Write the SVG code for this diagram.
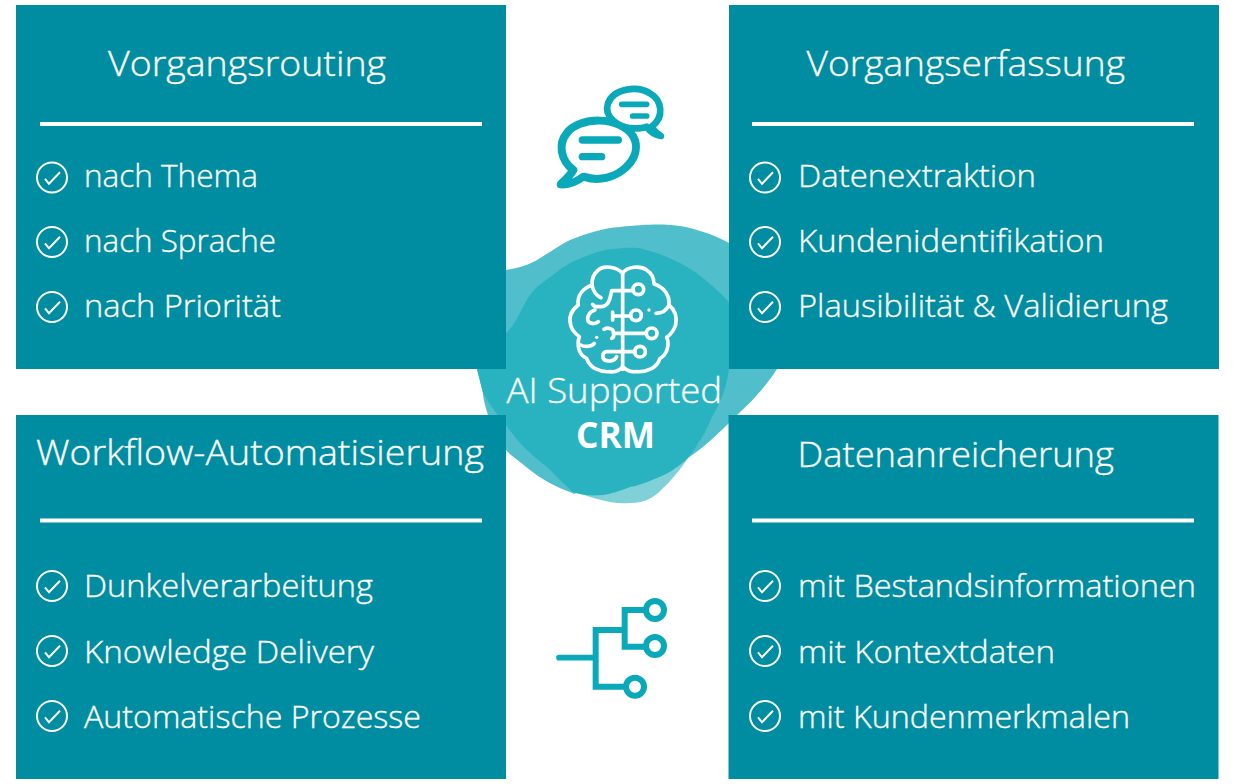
<svg xmlns="http://www.w3.org/2000/svg" xmlns:xlink="http://www.w3.org/1999/xlink" width="1246" height="784" viewBox="0 0 1246 784">
<style>
.panel{fill:#018DA1}
.rule{stroke:#fff;stroke-width:4;fill:none}
.t{font-family:"Open Sans","Liberation Sans",sans-serif;font-weight:300;fill:#fff;stroke:#fff;stroke-width:.35}
.h{font-size:35px}
.i{font-size:31px}
.cb{font-size:36px;font-weight:700}
.ic{stroke:#0AA9B9;fill:none;stroke-linecap:round;stroke-linejoin:round}
.br{stroke:#fff;fill:none;stroke-width:11;stroke-linecap:round;stroke-linejoin:round}
</style>
<defs>
<g id="check"><circle r="15" fill="none" stroke="#fff" stroke-width="2"/><path d="M-7,1.3 L-3,6.3 L8,-5.3" fill="none" stroke="#fff" stroke-width="2"/></g>
</defs>
<rect width="1246" height="784" fill="#fff"/>
<g id="blob">
<path fill="#80D0D8" d="M565,488 C590,497 610,505 630,503 C645,503 655,497 663,488 C670,482 680,470 688,458 L600,440Z"/>
<path fill="#50BFCB" d="M477,369 C479,377 481,385 483,393 C483,398 485,405 488,415 C492,425 498,438 506,450 C510,455 518,460 530,470 C540,478 555,487 575,494 L600,440 L688,458 C705,447 722,430 737,415 C750,403 765,388 777,369 L729,369 L729,243 C715,235 690,226 670,225 C655,224 640,225 620,227 C605,228 590,232 570,240 C560,245 550,252 537,260 C530,264 520,268 506,270 L506,369Z"/>
<path fill="#29B3C1" d="M477,369 L506,333 C512,328 516,320 520,313 C526,300 530,294 537,287 C548,279 558,270 570,263 C585,256 600,250 613,249 C625,248 635,247 643,249 C660,253 675,260 687,267 C702,276 718,290 729,302 L729,369 C727,385 722,400 712,417 C706,432 697,446 688,458 C675,470 665,475 657,478 C645,483 637,486 630,487 C620,491 610,494 603,495 C590,496 580,495 573,492 C565,485 555,475 547,467 C540,462 535,457 527,450 C518,442 512,433 506,425 C497,415 490,405 483,393 C481,385 479,377 477,369Z"/>
</g>
<g id="node-vorgangsrouting">
<rect class="panel" x="16" y="5" width="490" height="364"/>
<text class="t h" x="108" y="76" textLength="278" lengthAdjust="spacingAndGlyphs">Vorgangsrouting</text>
<line class="rule" x1="40" y1="124" x2="482" y2="124"/>
<use xlink:href="#check" href="#check" x="52" y="177.500"/>
<text class="t i" x="84" y="187" textLength="174" lengthAdjust="spacingAndGlyphs">nach Thema</text>
<use xlink:href="#check" href="#check" x="52" y="242"/>
<text class="t i" x="84" y="252" textLength="192" lengthAdjust="spacingAndGlyphs">nach Sprache</text>
<use xlink:href="#check" href="#check" x="52" y="307"/>
<text class="t i" x="84" y="317" textLength="197" lengthAdjust="spacingAndGlyphs">nach Priorität</text>
</g>
<g id="node-vorgangserfassung">
<rect class="panel" x="729" y="5" width="490" height="364"/>
<text class="t h" x="806.500" y="76" textLength="318.500" lengthAdjust="spacingAndGlyphs">Vorgangserfassung</text>
<line class="rule" x1="752" y1="124" x2="1194" y2="124"/>
<use xlink:href="#check" href="#check" x="765" y="177.500"/>
<text class="t i" x="798" y="187" textLength="238" lengthAdjust="spacingAndGlyphs">Datenextraktion</text>
<use xlink:href="#check" href="#check" x="765" y="242"/>
<text class="t i" x="798" y="252" textLength="306" lengthAdjust="spacingAndGlyphs">Kundenidentifikation</text>
<use xlink:href="#check" href="#check" x="765" y="307"/>
<text class="t i" x="798" y="317" textLength="370" lengthAdjust="spacingAndGlyphs">Plausibilität &amp; Validierung</text>
</g>
<g id="node-workflow">
<rect class="panel" x="16" y="415" width="490" height="364"/>
<text class="t h" x="36" y="465" textLength="448" lengthAdjust="spacingAndGlyphs">Workflow-Automatisierung</text>
<line class="rule" x1="40" y1="520.500" x2="482" y2="520.500"/>
<use xlink:href="#check" href="#check" x="52" y="586"/>
<text class="t i" x="84" y="597" textLength="289" lengthAdjust="spacingAndGlyphs">Dunkelverarbeitung</text>
<use xlink:href="#check" href="#check" x="52" y="651"/>
<text class="t i" x="84" y="663" textLength="290" lengthAdjust="spacingAndGlyphs">Knowledge Delivery</text>
<use xlink:href="#check" href="#check" x="52" y="716"/>
<text class="t i" x="84" y="728" textLength="337" lengthAdjust="spacingAndGlyphs">Automatische Prozesse</text>
</g>
<g id="node-datenanreicherung">
<rect class="panel" x="728.500" y="415" width="490" height="364"/>
<text class="t h" x="797.500" y="467" textLength="316.500" lengthAdjust="spacingAndGlyphs">Datenanreicherung</text>
<line class="rule" x1="752" y1="520.500" x2="1194" y2="520.500"/>
<use xlink:href="#check" href="#check" x="765" y="586"/>
<text class="t i" x="798" y="597" textLength="398" lengthAdjust="spacingAndGlyphs">mit Bestandsinformationen</text>
<use xlink:href="#check" href="#check" x="765" y="651"/>
<text class="t i" x="798" y="663" textLength="257" lengthAdjust="spacingAndGlyphs">mit Kontextdaten</text>
<use xlink:href="#check" href="#check" x="765" y="716"/>
<text class="t i" x="798" y="728" textLength="332" lengthAdjust="spacingAndGlyphs">mit Kundenmerkmalen</text>
</g>
<g id="node-center">
<g transform="translate(470,210) scale(0.33333)">
<path class="br" d="M458,478 L458,190 C470,170 510,165 530,180 C548,192 552,210 552,222 C580,230 600,255 597,285 C615,300 622,320 617,345 C610,365 600,375 590,382 C600,405 590,435 570,445 C560,475 530,487 500,485 C485,487 465,480 458,470"/>
<path class="br" d="M458,190 C440,170 400,165 385,180 C370,192 365,210 366,225 C340,235 320,255 325,285 C305,300 295,320 302,345 C305,360 315,370 328,380 C320,405 325,435 350,445 C360,475 390,487 420,485 C435,487 450,480 458,470"/>
<path class="br" d="M366,225 C370,245 380,258 393,263"/>
<path class="br" d="M458,242 H425 C420,270 415,288 395,290 H375 L368,283"/>
<path class="br" d="M375,300 C355,305 350,325 355,335 C365,345 380,340 385,335"/>
<path class="br" d="M458,242 H490"/><circle class="br" cx="505" cy="238" r="16"/>
<path class="br" d="M428,306 V330 M428,318 H482"/><circle class="br" cx="498" cy="316" r="16"/>
<circle cx="537" cy="300" r="5" fill="#fff"/>
<path class="br" d="M558,310 C575,310 590,300 597,285"/>
<path class="br" d="M458,370 H528"/><circle class="br" cx="545" cy="370" r="16"/>
<path class="br" d="M402,358 C415,350 435,358 430,370 H458 M430,370 C433,378 430,383 425,385"/>
<circle cx="380" cy="382" r="5" fill="#fff"/>
<path class="br" d="M332,405 C345,412 365,410 373,400"/>
<path class="br" d="M458,425 H495"/><circle class="br" cx="510" cy="425" r="16"/>
<path class="br" d="M458,425 H410 C395,425 395,450 410,452 C425,455 435,450 440,440"/>
</g>
<text class="t" x="506.500" y="403" font-size="35" textLength="215.500" lengthAdjust="spacingAndGlyphs">AI Supported</text>
<text class="t cb" x="576" y="448" textLength="79" lengthAdjust="spacingAndGlyphs" style="stroke:none">CRM</text>
</g>
<g id="icon-chat" transform="translate(540,75) scale(0.33333)">
<path class="ic" stroke-width="24" d="M100,285 C60,255 55,205 80,175 C115,125 240,120 280,185 C310,240 250,310 170,312 C155,312 140,308 130,305 C110,320 85,330 62,328 C80,310 92,300 100,285Z"/>
<path class="ic" stroke-width="20" style="fill:#fff" d="M335,155 C375,125 365,75 330,55 C290,30 220,42 204,85 C190,125 235,160 280,160 C295,160 310,160 320,155 C330,170 345,180 363,183 C350,175 340,165 335,155Z"/>
<path class="ic" stroke-width="22" d="M127,195 H235 M127,245 H185"/>
<path class="ic" stroke-width="17" d="M245,88 H320 M278,123 H320"/>
</g>
<g id="icon-tree" transform="translate(540,590) scale(0.33333)">
<path class="ic" stroke-width="17" d="M57,203 H165"/>
<path class="ic" stroke-width="18" style="stroke-linecap:butt;stroke-linejoin:miter" d="M318,60 H254 V170 H318 M254,120 H167 V290 H258"/>
<circle class="ic" stroke-width="18" cx="345" cy="60" r="27"/>
<circle class="ic" stroke-width="18" cx="345" cy="168" r="27"/>
<circle class="ic" stroke-width="18" cx="285" cy="290" r="27"/>
</g>
<g id="connectors"/>
</svg>
